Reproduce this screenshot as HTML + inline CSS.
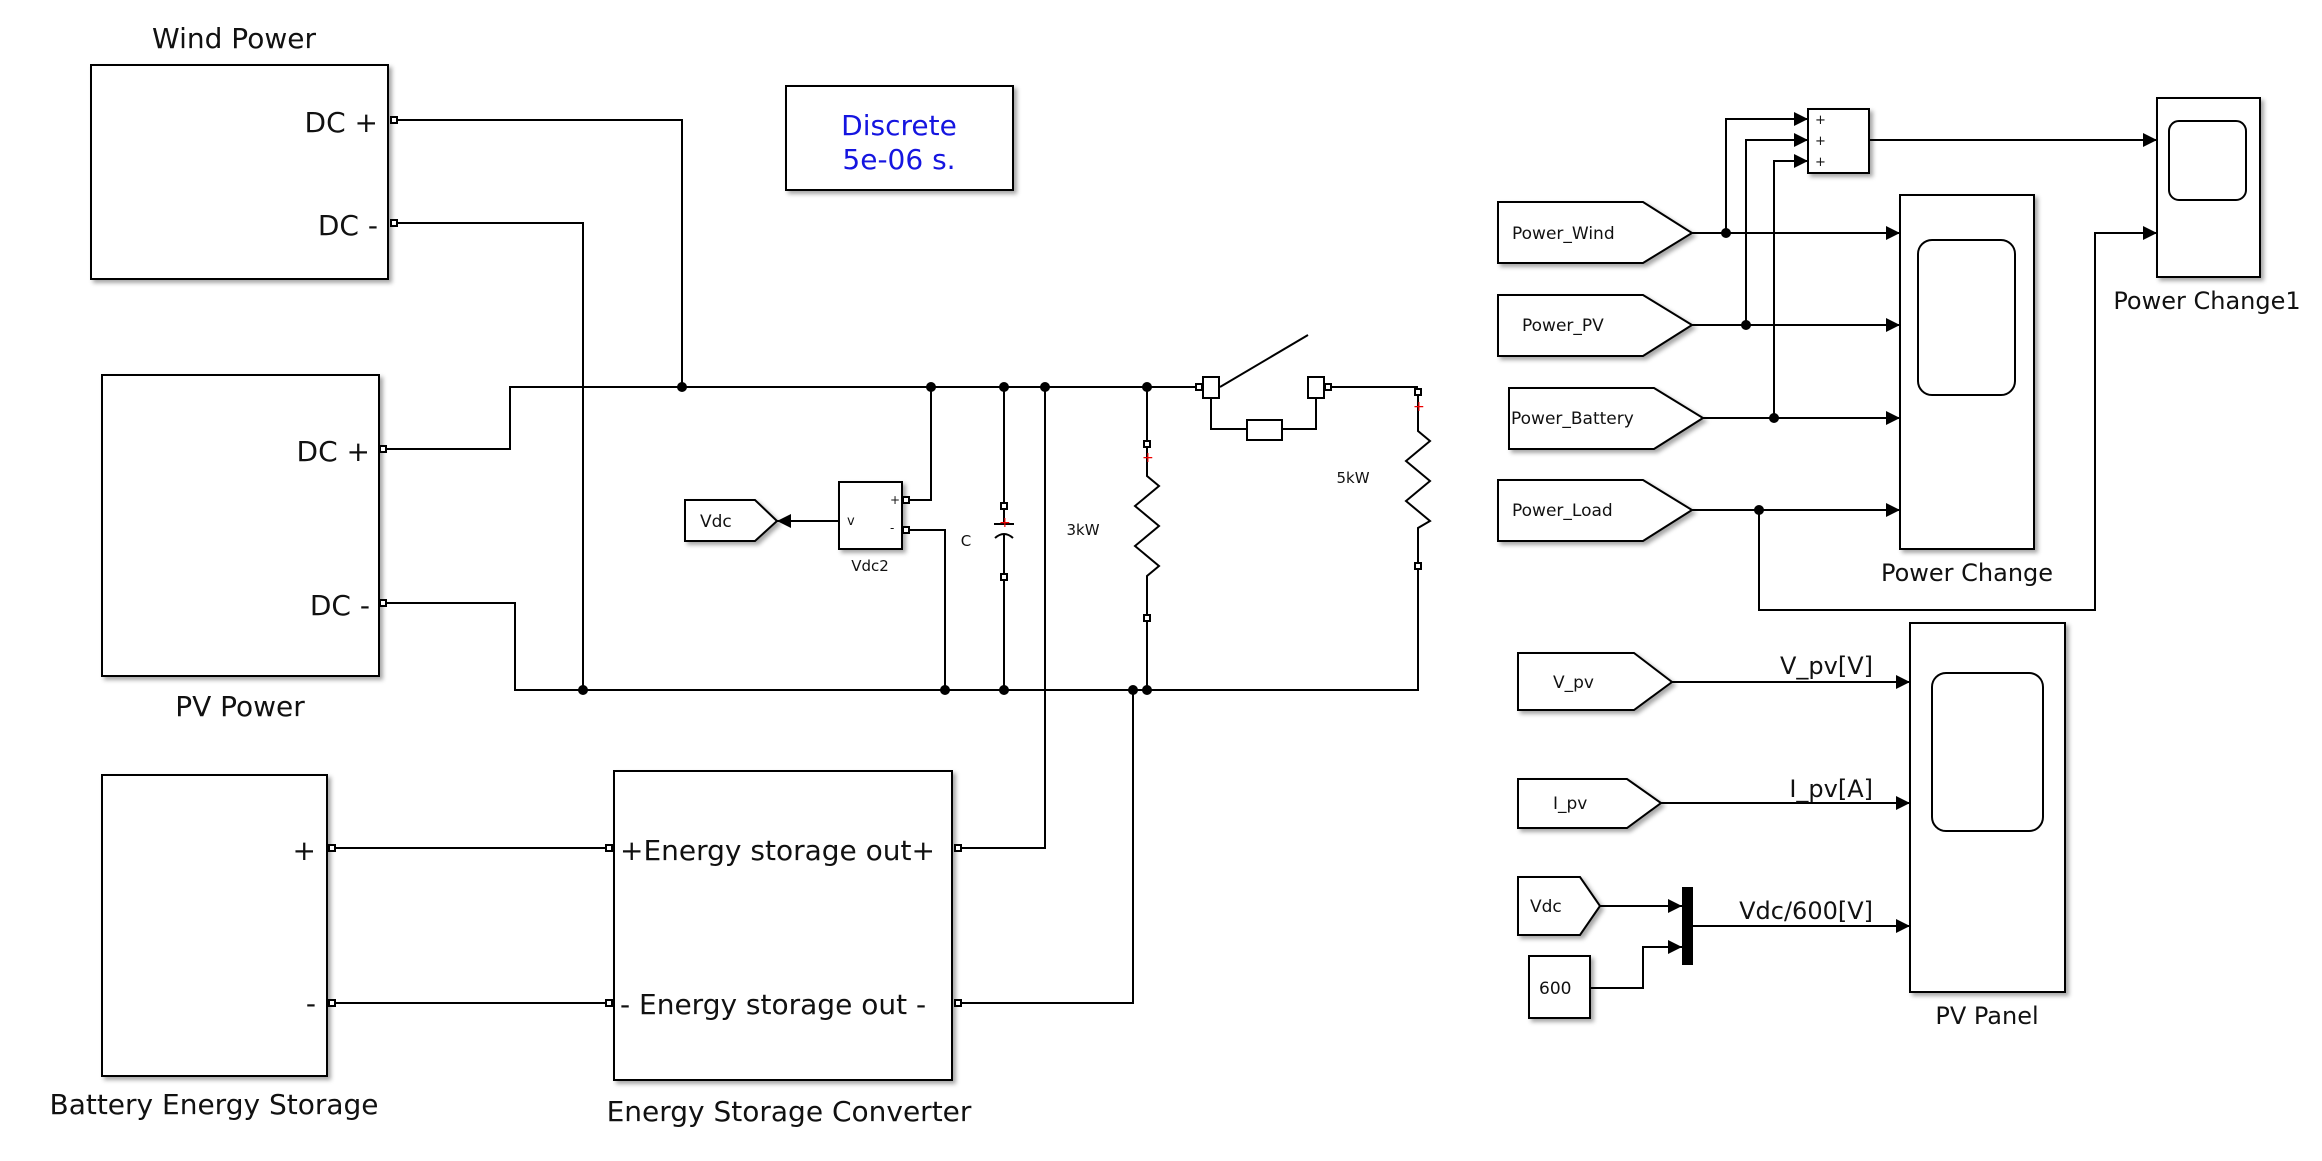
<!DOCTYPE html>
<html><head><meta charset="utf-8"><style>
html,body{margin:0;padding:0;background:#fff;}
svg{display:block;}
text{font-family:"DejaVu Sans","Liberation Sans",sans-serif;fill:#111;}
</style></head><body>
<svg width="2322" height="1161" viewBox="0 0 2322 1161" xmlns="http://www.w3.org/2000/svg">
<defs>
<filter id="sh" x="-10%" y="-10%" width="130%" height="130%"><feDropShadow dx="3" dy="3" stdDeviation="2" flood-color="#000" flood-opacity="0.35"/></filter>
<marker id="ar" viewBox="0 0 10 10" refX="10" refY="5" markerWidth="10" markerHeight="10" markerUnits="userSpaceOnUse" orient="auto"><path d="M0,0 L10,5 L0,10 z" fill="#000"/></marker>
<marker id="arL" viewBox="0 0 14 14" refX="14" refY="7" markerWidth="14" markerHeight="14" markerUnits="userSpaceOnUse" orient="auto"><path d="M0,0 L14,7 L0,14 z" fill="#000"/></marker>
</defs>
<g fill="#fff" stroke="#000" stroke-width="2" filter="url(#sh)">
<rect x="91" y="65" width="297" height="214"/>
<rect x="786" y="86" width="227" height="104"/>
<rect x="102" y="375" width="277" height="301"/>
<rect x="102" y="775" width="225" height="301"/>
<rect x="614" y="771" width="338" height="309"/>
<rect x="839" y="482" width="63" height="67"/>
<path d="M685,500 L755,500 L777,521 L755,541 L685,541 Z"/>
<rect x="1808" y="109" width="61" height="64"/>
<rect x="2157" y="98" width="103" height="179"/>
<rect x="1900" y="195" width="134" height="354"/>
<rect x="1910" y="623" width="155" height="369"/>
<path d="M1498,202 L1643,202 L1692,233 L1643,263 L1498,263 Z"/>
<path d="M1498,295 L1643,295 L1692,325 L1643,356 L1498,356 Z"/>
<path d="M1509,388 L1654,388 L1703,418 L1654,449 L1509,449 Z"/>
<path d="M1498,480 L1643,480 L1692,510 L1643,541 L1498,541 Z"/>
<path d="M1518,653 L1634,653 L1672,682 L1634,710 L1518,710 Z"/>
<path d="M1518,779 L1627,779 L1661,803 L1627,828 L1518,828 Z"/>
<path d="M1518,877 L1580,877 L1600,906 L1580,935 L1518,935 Z"/>
<rect x="1529" y="956" width="61" height="62"/>
</g>
<rect x="1682" y="887" width="11" height="78" fill="#000"/>
<g fill="none" stroke="#000" stroke-width="2">
<rect x="2169" y="121" width="77" height="79" rx="10"/>
<rect x="1918" y="240" width="97" height="155" rx="14"/>
<rect x="1932" y="673" width="111" height="158" rx="14"/>
<!-- left wiring -->
<polyline points="394,120 682,120 682,387"/>
<polyline points="394,223 583,223 583,690"/>
<polyline points="383,449 510,449 510,387 1198,387"/>
<polyline points="383,603 515,603 515,690 1418,690 1418,566"/>
<polyline points="906,500 931,500 931,387"/>
<polyline points="906,530 945,530 945,690"/>
<line x1="1004" y1="387" x2="1004" y2="506"/>
<line x1="1004" y1="577" x2="1004" y2="690"/>
<polyline points="958,848 1045,848 1045,387"/>
<polyline points="958,1003 1133,1003 1133,690"/>
<line x1="332" y1="848" x2="609" y2="848"/>
<line x1="332" y1="1003" x2="609" y2="1003"/>
<line x1="1147" y1="387" x2="1147" y2="444"/>
<line x1="1147" y1="618" x2="1147" y2="690"/>
<polyline points="1147,444 1147,476 1159,486 1135,506 1159,526 1135,546 1159,566 1147,576 1147,618"/>
<polyline points="1418,392 1418,431 1430,441 1406,461 1430,481 1406,501 1430,521 1418,528 1418,566"/>
<line x1="1331" y1="387" x2="1418" y2="387"/>
<line x1="1220" y1="387" x2="1308" y2="335"/>
<polyline points="1211,398 1211,429 1247,429"/>
<polyline points="1282,429 1316,429 1316,398"/>
<rect x="1247" y="420" width="35" height="20" fill="#fff"/>
<rect x="1203" y="377" width="16" height="21" fill="#fff"/>
<rect x="1308" y="377" width="16" height="21" fill="#fff"/>
<line x1="994" y1="524" x2="1014" y2="524"/>
<path d="M995,538 Q1004,530 1013,538"/>
<line x1="1004" y1="506" x2="1004" y2="524"/>
<line x1="1004" y1="534" x2="1004" y2="577"/>
<!-- right wiring -->
<line x1="1692" y1="233" x2="1900" y2="233" marker-end="url(#arL)"/>
<line x1="1692" y1="325" x2="1900" y2="325" marker-end="url(#arL)"/>
<line x1="1703" y1="418" x2="1900" y2="418" marker-end="url(#arL)"/>
<line x1="1692" y1="510" x2="1900" y2="510" marker-end="url(#arL)"/>
<polyline points="1726,233 1726,119 1808,119" marker-end="url(#arL)"/>
<polyline points="1746,325 1746,140 1808,140" marker-end="url(#arL)"/>
<polyline points="1774,418 1774,161 1808,161" marker-end="url(#arL)"/>
<line x1="1869" y1="140" x2="2157" y2="140" marker-end="url(#arL)"/>
<polyline points="1759,510 1759,610 2095,610 2095,233 2157,233" marker-end="url(#arL)"/>
<line x1="1672" y1="682" x2="1910" y2="682" marker-end="url(#arL)"/>
<line x1="1661" y1="803" x2="1910" y2="803" marker-end="url(#arL)"/>
<line x1="1600" y1="906" x2="1682" y2="906" marker-end="url(#arL)"/>
<polyline points="1590,988 1643,988 1643,947 1682,947" marker-end="url(#arL)"/>
<line x1="1693" y1="926" x2="1910" y2="926" marker-end="url(#arL)"/>
<line x1="839" y1="521" x2="777" y2="521" marker-end="url(#arL)"/>
</g>
<g fill="#000">
<circle cx="682" cy="387" r="5"/><circle cx="931" cy="387" r="5"/><circle cx="1004" cy="387" r="5"/><circle cx="1045" cy="387" r="5"/><circle cx="1147" cy="387" r="5"/>
<circle cx="583" cy="690" r="5"/><circle cx="945" cy="690" r="5"/><circle cx="1004" cy="690" r="5"/><circle cx="1133" cy="690" r="5"/><circle cx="1147" cy="690" r="5"/>
<circle cx="1726" cy="233" r="5"/><circle cx="1746" cy="325" r="5"/><circle cx="1774" cy="418" r="5"/><circle cx="1759" cy="510" r="5"/>
</g>
<g fill="#fff" stroke="#000" stroke-width="2">
<rect x="391" y="117" width="6" height="6"/><rect x="391" y="220" width="6" height="6"/>
<rect x="380" y="446" width="6" height="6"/><rect x="380" y="600" width="6" height="6"/>
<rect x="329" y="845" width="6" height="6"/><rect x="329" y="1000" width="6" height="6"/>
<rect x="606" y="845" width="6" height="6"/><rect x="606" y="1000" width="6" height="6"/>
<rect x="955" y="845" width="6" height="6"/><rect x="955" y="1000" width="6" height="6"/>
<rect x="903" y="497" width="6" height="6"/><rect x="903" y="527" width="6" height="6"/>
<rect x="1001" y="503" width="6" height="6"/><rect x="1001" y="574" width="6" height="6"/>
<rect x="1144" y="441" width="6" height="6"/><rect x="1144" y="615" width="6" height="6"/>
<rect x="1415" y="389" width="6" height="6"/><rect x="1415" y="563" width="6" height="6"/>
<rect x="1196" y="384" width="6" height="6"/><rect x="1325" y="384" width="6" height="6"/>
</g>
<g fill="#e00" font-size="14"><text x="999" y="527" style="fill:#e00">+</text><text x="1142" y="462" style="fill:#e00">+</text><text x="1413" y="411" style="fill:#e00">+</text></g>
<g font-size="28">
<text x="234" y="48" text-anchor="middle">Wind Power</text>
<text x="378" y="132" text-anchor="end">DC +</text>
<text x="378" y="235" text-anchor="end">DC -</text>
<text x="370" y="461" text-anchor="end">DC +</text>
<text x="370" y="615" text-anchor="end">DC -</text>
<text x="240" y="716" text-anchor="middle">PV Power</text>
<text x="316" y="860" text-anchor="end">+</text>
<text x="316" y="1013" text-anchor="end">-</text>
<text x="214" y="1114" text-anchor="middle">Battery Energy Storage</text>
<text x="620" y="860">+Energy storage out+</text>
<text x="620" y="1014">-  Energy storage out -</text>
<text x="789" y="1121" text-anchor="middle">Energy Storage Converter</text>
<text x="899" y="135" text-anchor="middle" style="fill:#1515e0">Discrete</text>
<text x="899" y="169" text-anchor="middle" style="fill:#1515e0">5e-06 s.</text>
</g>
<g font-size="15">
<text x="870" y="571" text-anchor="middle">Vdc2</text>
<text x="847" y="525" font-size="13">v</text>
<text x="890" y="504" font-size="12">+</text>
<text x="890" y="532" font-size="12">-</text>
<text x="966" y="546" text-anchor="middle">C</text>
<text x="1083" y="535" text-anchor="middle">3kW</text>
<text x="1353" y="483" text-anchor="middle">5kW</text>
</g>
<g font-size="17">
<text x="700" y="527">Vdc</text>
<text x="1512" y="239">Power_Wind</text>
<text x="1522" y="331">Power_PV</text>
<text x="1511" y="424">Power_Battery</text>
<text x="1512" y="516">Power_Load</text>
<text x="1553" y="688">V_pv</text>
<text x="1553" y="809">I_pv</text>
<text x="1530" y="912">Vdc</text>
<text x="1539" y="994">600</text>
<text x="1815" y="124" font-size="13">+</text>
<text x="1815" y="145" font-size="13">+</text>
<text x="1815" y="166" font-size="13">+</text>
</g>
<g font-size="24">
<text x="2207" y="309" text-anchor="middle">Power Change1</text>
<text x="1967" y="581" text-anchor="middle">Power Change</text>
<text x="1987" y="1024" text-anchor="middle">PV Panel</text>
<text x="1873" y="674" text-anchor="end">V_pv[V]</text>
<text x="1873" y="797" text-anchor="end">I_pv[A]</text>
<text x="1873" y="919" text-anchor="end">Vdc/600[V]</text>
</g>
</svg>
</body></html>
